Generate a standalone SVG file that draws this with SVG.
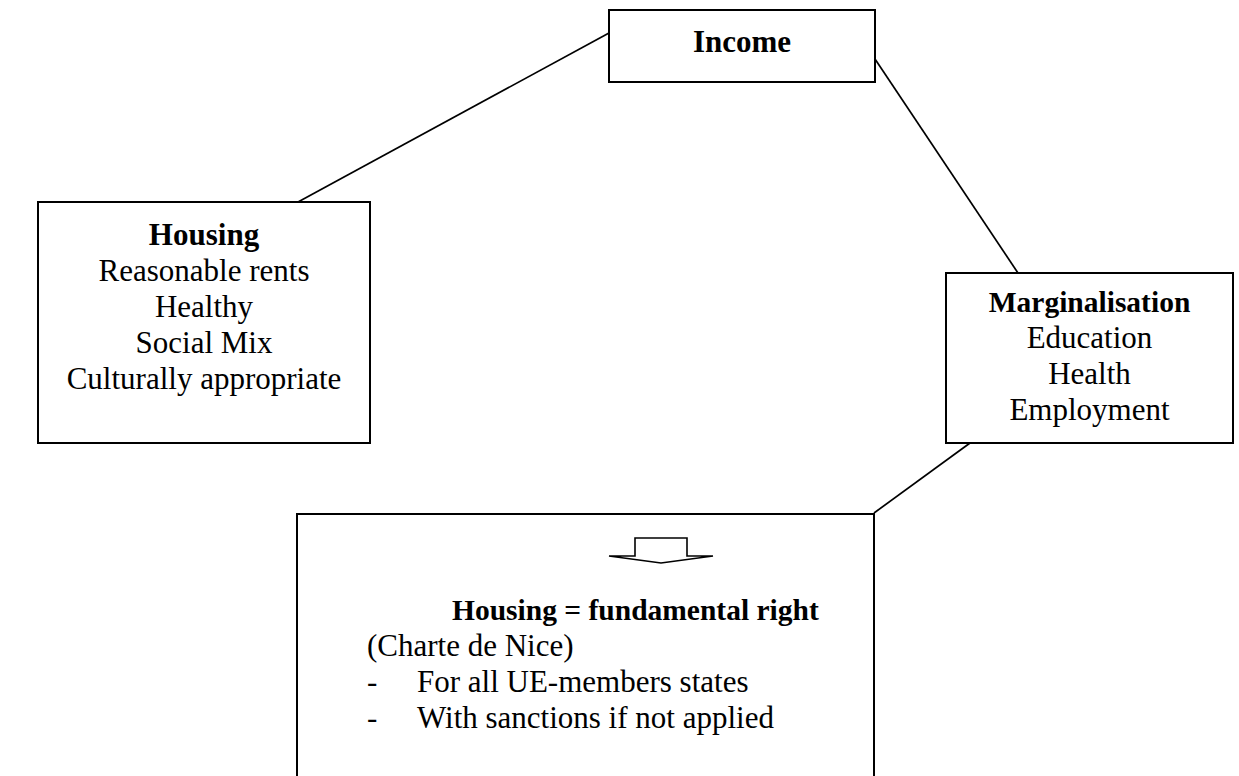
<svg xmlns="http://www.w3.org/2000/svg" width="1239" height="776" viewBox="0 0 1239 776">
<style>
.box{fill:#fff;stroke:#000;stroke-width:2}
.t{font-family:"Liberation Serif","Times New Roman",serif;font-size:31px;fill:#000}
.b{font-weight:bold}
.s{font-size:29.5px}
.c{text-anchor:middle}
.conn line{stroke:#000;stroke-width:1.7}
.arrow{fill:#fff;stroke:#000;stroke-width:1.6;stroke-linejoin:miter}
</style>
<rect width="1239" height="776" fill="#fff"/>
<g id="connectors" class="conn">
<line x1="298" y1="202" x2="609" y2="33"/>
<line x1="875" y1="59" x2="1018" y2="273"/>
<line x1="970" y1="443" x2="874" y2="513"/>
</g>
<g id="income">
<rect class="box" x="609" y="10" width="266" height="72"/>
<text class="t b c" x="742" y="52">Income</text>
</g>
<g id="housing">
<rect class="box" x="38" y="202" width="332" height="241"/>
<text class="t b c" x="204" y="245">Housing</text>
<text class="t c" x="204" y="281">Reasonable rents</text>
<text class="t c" x="204" y="317">Healthy</text>
<text class="t c" x="204" y="353">Social Mix</text>
<text class="t c" x="204" y="389">Culturally appropriate</text>
</g>
<g id="marginalisation">
<rect class="box" x="946" y="273" width="287" height="170"/>
<text class="t b c s" x="1089.5" y="312">Marginalisation</text>
<text class="t c" x="1089.5" y="348">Education</text>
<text class="t c" x="1089.5" y="384">Health</text>
<text class="t c" x="1089.5" y="420">Employment</text>
</g>
<g id="fundamental-right">
<rect class="box" x="297" y="514" width="577" height="290"/>
<polygon class="arrow" points="635,538 687,538 687,556 713,556 661,563 609,556 635,556"/>
<text class="t b s" x="452" y="620">Housing = fundamental right</text>
<text class="t" x="367" y="656">(Charte de Nice)</text>
<text class="t" x="367" y="692">-</text>
<text class="t" x="417" y="692">For all UE-members states</text>
<text class="t" x="367" y="728">-</text>
<text class="t" x="417" y="728">With sanctions if not applied</text>
</g>
</svg>
